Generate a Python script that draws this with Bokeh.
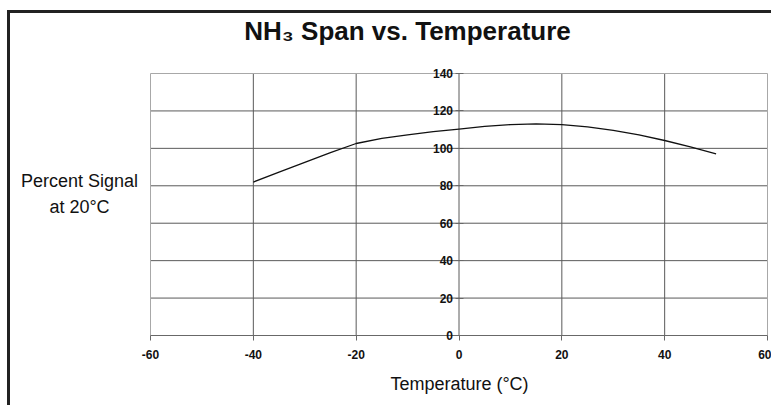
from bokeh.plotting import figure
from bokeh.models import Label, FixedTicker, Range1d, LinearAxis, PrintfTickFormatter
from bokeh.embed import file_html
from bokeh.resources import INLINE

# ---- data ----
temps = [-40, -35, -30, -25, -20, -15, -10, -5, 0, 5, 10, 15, 20, 25, 30, 35, 40, 45, 50]
signal = [82.0, 87.3, 92.5, 97.7, 102.6, 105.3, 107.2, 108.9, 110.3, 111.7,
          112.7, 113.1, 112.7, 111.5, 109.6, 107.2, 104.2, 100.8, 97.1]
x_ticks = [-60, -40, -20, 0, 20, 40, 60]
y_ticks = [0, 20, 40, 60, 80, 100, 120, 140]

title_text = "NH\u2083 Span vs. Temperature"
x_label = "Temperature (\u00b0C)"
y_label_1 = "Percent Signal"
y_label_2 = "at 20\u00b0C"

FONT = "Liberation Sans"

# ---- layout (page pixels) ----
CANVAS_LEFT, CANVAS_TOP = 10, 13
W, H = 764, 395
PX_XMIN, PX_XMAX = 150, 767   # page x of first / last x tick
PX_YMIN, PX_YMAX = 335, 73    # page y of first / last y tick

xmin, xmax = x_ticks[0], x_ticks[-1]
ymin, ymax = y_ticks[0], y_ticks[-1]
sx = (PX_XMAX - PX_XMIN) / (xmax - xmin)
sy = (PX_YMIN - PX_YMAX) / (ymax - ymin)


def dx(px):
    return xmin + (px - PX_XMIN) / sx


def dy(py):
    return ymin + (PX_YMIN - py) / sy


x_range = Range1d(dx(CANVAS_LEFT), dx(CANVAS_LEFT + W))
y_range = Range1d(dy(CANVAS_TOP + H), dy(CANVAS_TOP))

p = figure(width=W, height=H, output_backend="svg", toolbar_location=None,
           x_range=x_range, y_range=y_range,
           x_axis_location=None, y_axis_location=None,
           min_border=0)
p.styles = {"margin-left": "7px", "margin-top": "10px",
            "border-left": "3px solid #222222", "border-top": "3px solid #222222"}
p.background_fill_color = "white"
p.border_fill_color = "white"
p.outline_line_color = None
p.xgrid.visible = False
p.ygrid.visible = False

GRID = "#5a5a5a"
EDGE = "#a8a8a8"

# interior grid lines
p.segment(x0=x_ticks[1:-1], y0=[ymin] * (len(x_ticks) - 2),
          x1=x_ticks[1:-1], y1=[ymax] * (len(x_ticks) - 2),
          line_color=GRID, line_width=1)
p.segment(x0=[xmin] * (len(y_ticks) - 2), y0=y_ticks[1:-1],
          x1=[xmax] * (len(y_ticks) - 2), y1=y_ticks[1:-1],
          line_color=GRID, line_width=1)
# plot-area edges
p.segment(x0=[xmin, xmax], y0=[ymin, ymin], x1=[xmin, xmax], y1=[ymax, ymax],
          line_color=EDGE, line_width=1)
p.segment(x0=[xmin], y0=[ymax], x1=[xmax], y1=[ymax], line_color=EDGE, line_width=1)
p.segment(x0=[xmin], y0=[ymin], x1=[xmax], y1=[ymin], line_color="#686868", line_width=1)

fmt = PrintfTickFormatter(format="%d")

# x axis (at y = 0)
xa = LinearAxis(fixed_location=0, ticker=FixedTicker(ticks=x_ticks), formatter=fmt)
xa.axis_line_color = None
xa.major_tick_line_color = "#686868"
xa.major_tick_in = 0
xa.major_tick_out = 5
xa.minor_tick_line_color = None
xa.major_label_text_font = FONT
xa.major_label_text_font_style = "bold"
xa.major_label_text_font_size = "12px"
xa.major_label_text_color = "#111111"
xa.major_label_standoff = 9
p.add_layout(xa, "below")

# y axis (at x = 0)
ya = LinearAxis(fixed_location=0, ticker=FixedTicker(ticks=y_ticks), formatter=fmt)
ya.axis_line_color = None
ya.major_tick_line_color = "#686868"
ya.major_tick_in = 4
ya.major_tick_out = 4
ya.minor_tick_line_color = None
ya.major_label_text_font = FONT
ya.major_label_text_font_style = "bold"
ya.major_label_text_font_size = "12px"
ya.major_label_text_color = "#111111"
ya.major_label_standoff = 2
p.add_layout(ya, "left")

# data line
p.line(temps, signal, line_color="#111111", line_width=1.3)

# texts
p.add_layout(Label(x=dx(407), y=dy(30), text=title_text,
                   text_font=FONT, text_font_style="bold", text_font_size="26px",
                   text_align="center", text_baseline="alphabetic", text_color="#111111"))
p.add_layout(Label(x=dx(79), y=dy(180), text=y_label_1,
                   text_font=FONT, text_font_size="18px", text_align="center",
                   text_baseline="middle", text_color="#111111"))
p.add_layout(Label(x=dx(79), y=dy(206), text=y_label_2,
                   text_font=FONT, text_font_size="18px", text_align="center",
                   text_baseline="middle", text_color="#111111"))
p.add_layout(Label(x=dx(459), y=dy(383), text=x_label,
                   text_font=FONT, text_font_size="18px", text_align="center",
                   text_baseline="middle", text_color="#111111"))

open("out.html", "w").write(file_html(p, INLINE))
